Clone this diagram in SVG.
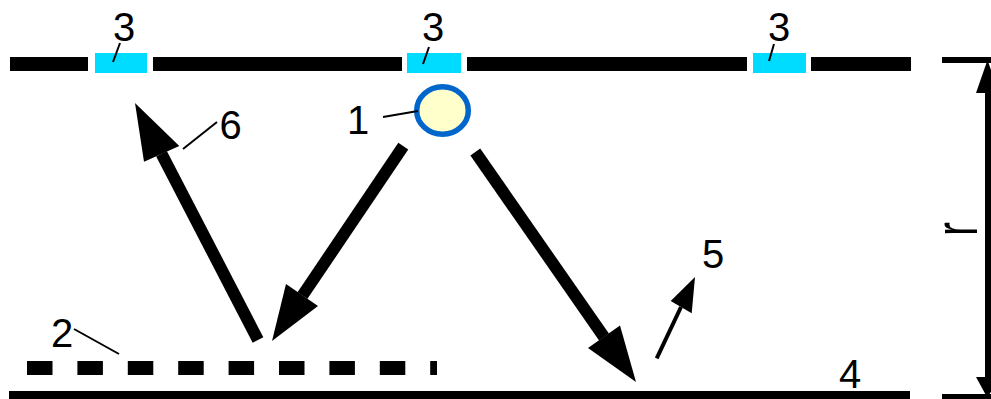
<svg xmlns="http://www.w3.org/2000/svg" width="991" height="399" viewBox="0 0 991 399">
  <style>
    .lbl { font-family: "Liberation Sans", Arial, sans-serif; font-size: 40px; fill: #000; text-anchor: middle; }
    .wall { fill: #000; }
    .win { fill: #00dcff; }
    .lead { stroke: #000; stroke-width: 2; fill: none; }
    .shaft { stroke: #000; stroke-width: 12; fill: none; }
    .head { fill: #000; }
  </style>
  <rect width="991" height="399" fill="#fff"/>

  <g id="ceiling">
    <rect class="wall" x="10" y="57" width="78" height="14"/>
    <rect class="wall" x="153" y="57" width="249" height="14"/>
    <rect class="wall" x="467" y="57" width="280" height="14"/>
    <rect class="wall" x="811" y="57" width="100" height="14"/>
  </g>

  <g id="sensor-3a">
    <rect class="win" x="95" y="53" width="52" height="20"/>
    <line class="lead" x1="120" y1="43" x2="113" y2="62"/>
    <text class="lbl" x="124" y="41">3</text>
  </g>
  <g id="sensor-3b">
    <rect class="win" x="407" y="53" width="54" height="20"/>
    <line class="lead" x1="429" y1="47" x2="423" y2="64"/>
    <text class="lbl" x="433" y="41">3</text>
  </g>
  <g id="sensor-3c">
    <rect class="win" x="753" y="53" width="53" height="20"/>
    <line class="lead" x1="774" y1="44" x2="769" y2="61"/>
    <text class="lbl" x="779" y="41">3</text>
  </g>

  <g id="source-1">
    <ellipse cx="442.5" cy="110.5" rx="25.8" ry="23.8" fill="#ffffcc" stroke="#0066cc" stroke-width="5.5"/>
    <line class="lead" x1="383" y1="117" x2="418" y2="111"/>
    <text class="lbl" x="358" y="134">1</text>
  </g>

  <g id="layer-2">
    <line x1="27" y1="368" x2="437" y2="368" stroke="#000" stroke-width="14" stroke-dasharray="25.5 24.9"/>
    <line class="lead" x1="74" y1="329" x2="119" y2="354"/>
    <text class="lbl" x="62" y="347">2</text>
  </g>

  <g id="floor-4">
    <rect class="wall" x="9" y="391" width="901" height="8"/>
    <text class="lbl" x="850" y="388">4</text>
  </g>

  <g id="dimension-r">
    <rect class="wall" x="942" y="57" width="49" height="6"/>
    <rect class="wall" x="942" y="394" width="49" height="5"/>
    <line x1="988" y1="80" x2="988" y2="380" stroke="#000" stroke-width="6"/>
    <polygon class="head" points="987.5,60 999,93 976,93"/>
    <polygon class="head" points="987.5,398 999,377 976,377"/>
    <text font-family="Liberation Sans, Arial, sans-serif" font-size="40" fill="#000" transform="translate(977,236) rotate(-90) scale(1.05,1.55)">r</text>
  </g>

  <g id="connectors">
    <g id="ray-down-left">
      <line class="shaft" x1="403.3" y1="146.2" x2="302.5" y2="295.5"/>
      <polygon class="head" points="272,341 286,284 318,306"/>
    </g>
    <g id="ray-down-right">
      <line class="shaft" x1="475.3" y1="152" x2="604" y2="337"/>
      <polygon class="head" points="636,382 588,348 620,325.5"/>
    </g>
    <g id="ray-up-6">
      <line class="shaft" x1="258" y1="340" x2="161.5" y2="153.7"/>
      <polygon class="head" points="135,103 144,161.7 179.3,146"/>
      <line class="lead" x1="217" y1="122" x2="183" y2="149"/>
      <text class="lbl" x="230.5" y="139">6</text>
    </g>
    <g id="ray-up-5">
      <line x1="656.7" y1="358.3" x2="681" y2="307" stroke="#000" stroke-width="4"/>
      <polygon class="head" points="695,277 670.7,301 691.7,313.3"/>
      <text class="lbl" x="713" y="268">5</text>
    </g>
  </g>
</svg>
